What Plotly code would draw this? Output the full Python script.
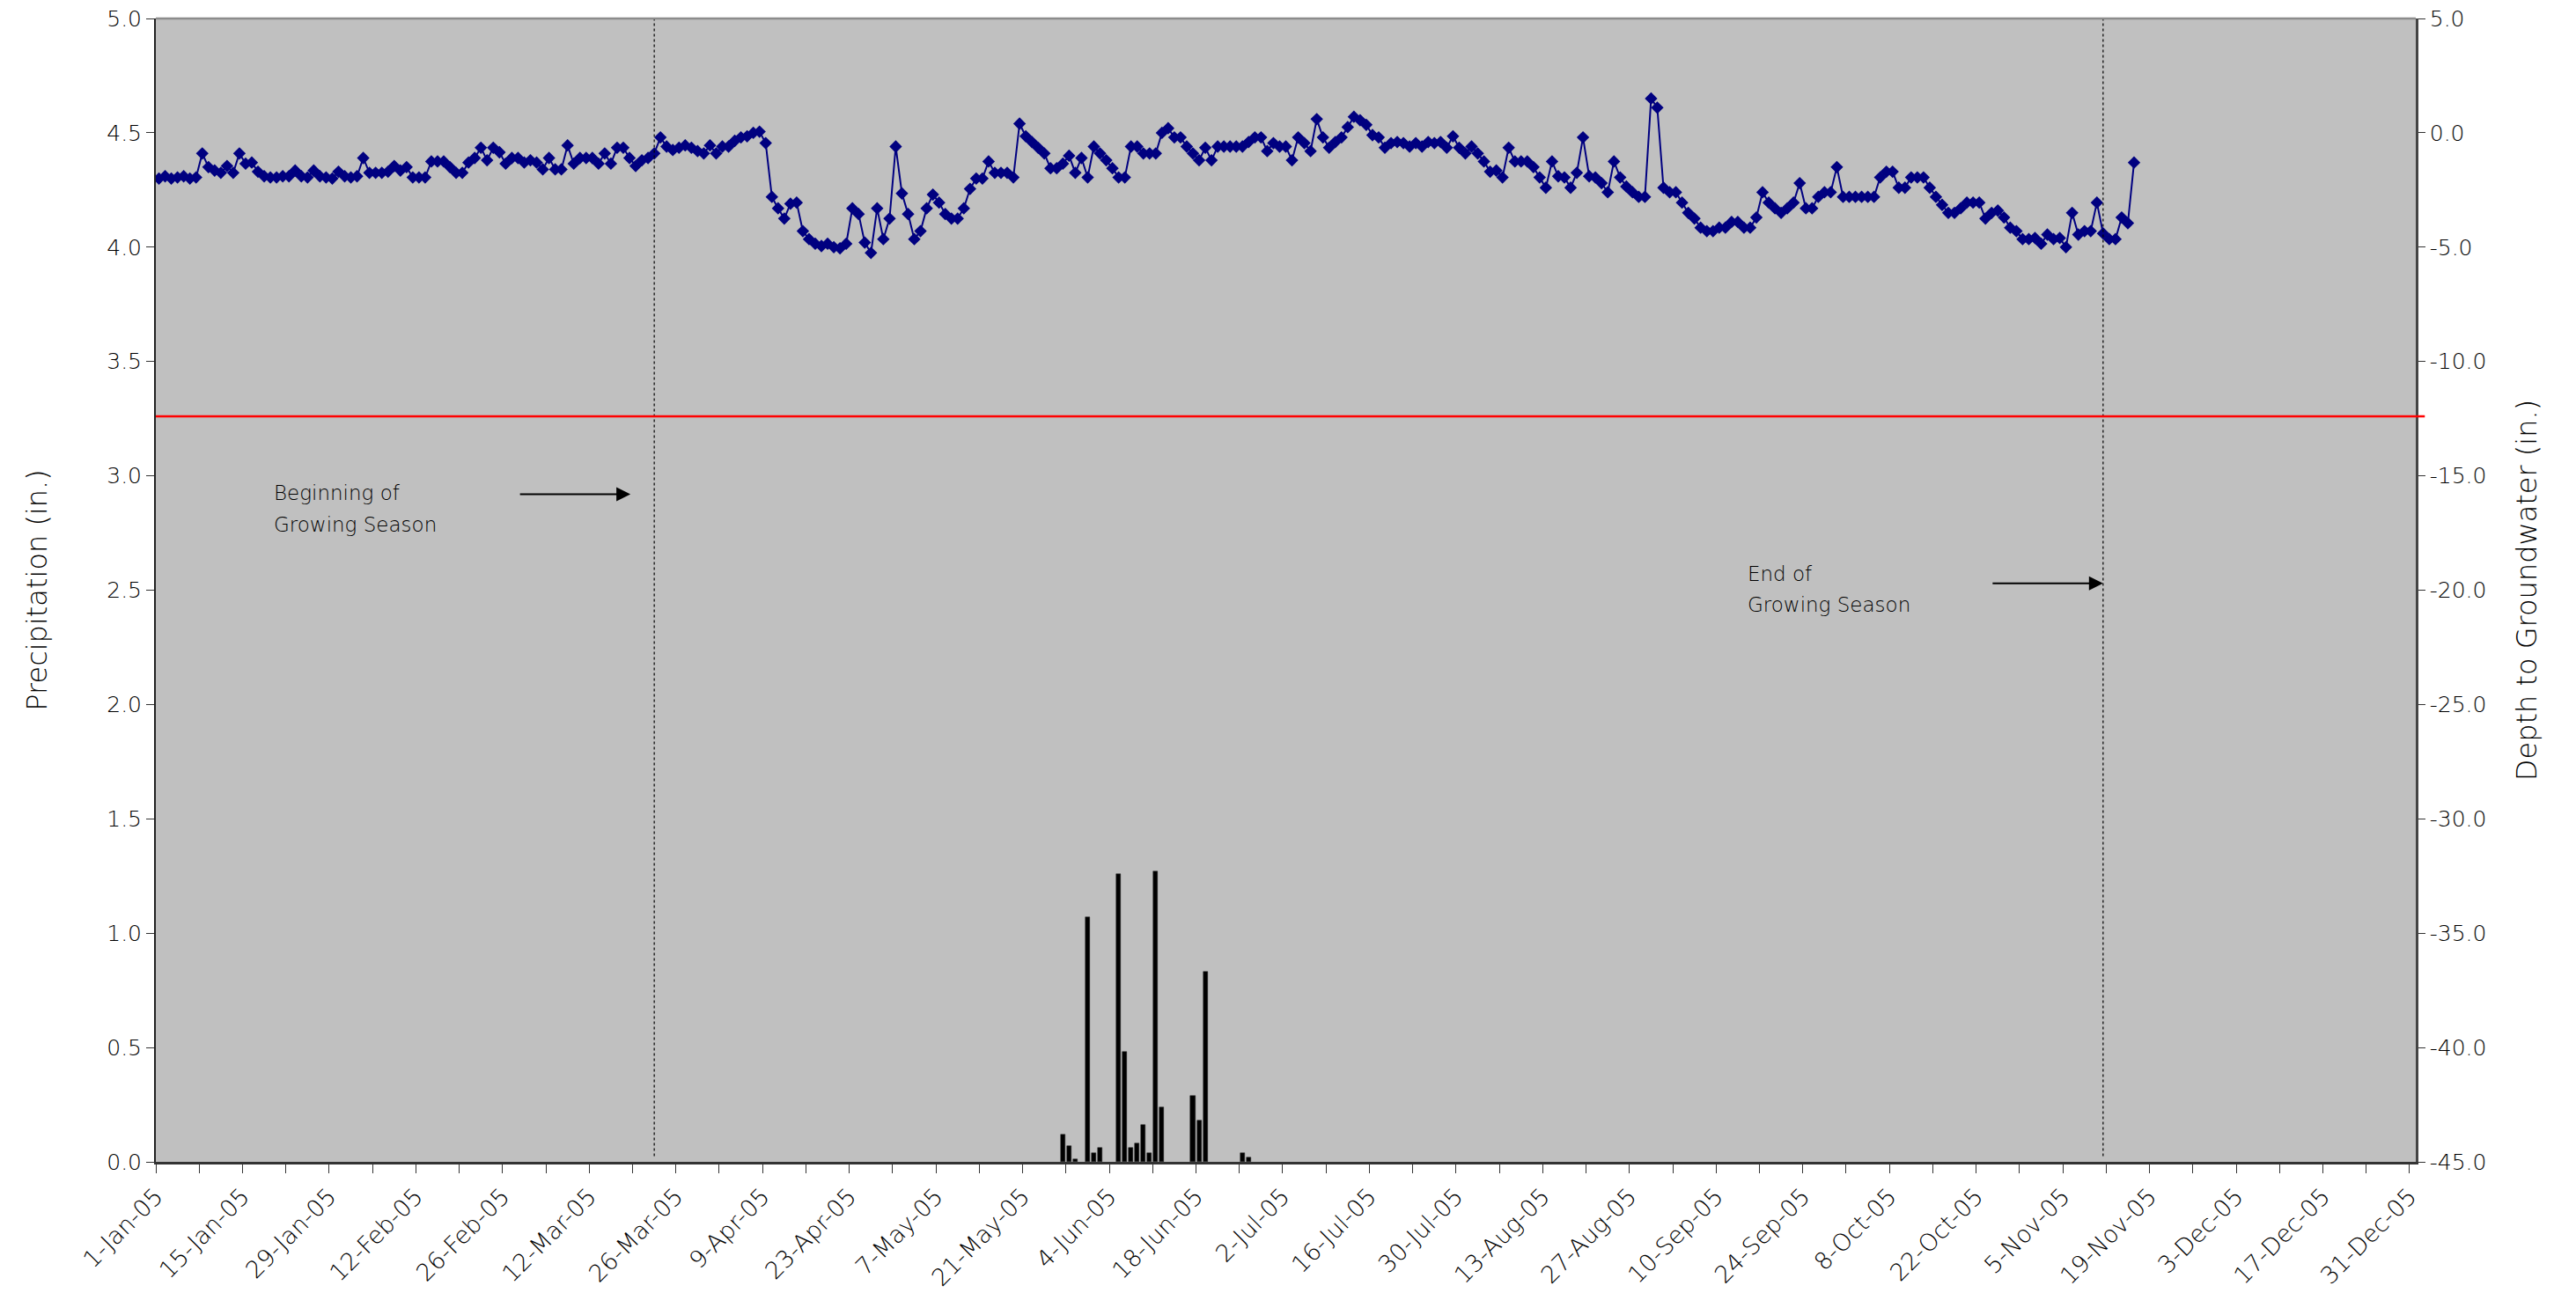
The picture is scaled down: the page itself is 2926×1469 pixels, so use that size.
import pandas as pd
import plotly.graph_objects as go

# daily depth to groundwater (in.), starting 1-Jan-05
depth_start = "2005-01-01"
depth = [
    -2.0, -1.9, -2.0, -1.95, -1.9, -2.0, -1.95, -0.9, -1.5, -1.65,
    -1.75, -1.45, -1.75, -0.9, -1.35, -1.3, -1.7, -1.9, -1.95, -1.95,
    -1.9, -1.9, -1.65, -1.9, -1.95, -1.65, -1.9, -1.95, -2.0, -1.7,
    -1.9, -1.95, -1.9, -1.1, -1.75, -1.75, -1.75, -1.7, -1.45, -1.65,
    -1.5, -1.95, -1.95, -1.95, -1.25, -1.25, -1.25, -1.5, -1.75, -1.75,
    -1.3, -1.1, -0.65, -1.2, -0.65, -0.85, -1.35, -1.1, -1.1, -1.3,
    -1.2, -1.3, -1.6, -1.1, -1.6, -1.6, -0.55, -1.35, -1.1, -1.1,
    -1.1, -1.35, -0.9, -1.35, -0.65, -0.65, -1.1, -1.45, -1.2, -1.1,
    -0.9, -0.2, -0.6, -0.75, -0.65, -0.55, -0.65, -0.8, -0.9, -0.55,
    -0.9, -0.6, -0.6, -0.35, -0.2, -0.15, 0.0, 0.05, -0.45, -2.8,
    -3.3, -3.75, -3.1, -3.05, -4.3, -4.65, -4.85, -4.95, -4.85, -5.0,
    -5.05, -4.85, -3.3, -3.55, -4.8, -5.25, -3.3, -4.65, -3.75, -0.6,
    -2.65, -3.55, -4.65, -4.3, -3.3, -2.7, -3.05, -3.55, -3.75, -3.75,
    -3.3, -2.45, -2.0, -2.0, -1.25, -1.75, -1.75, -1.75, -1.95, 0.4,
    -0.15, -0.4, -0.65, -0.9, -1.55, -1.55, -1.35, -1.0, -1.75, -1.1,
    -1.95, -0.6, -0.9, -1.2, -1.55, -1.95, -1.95, -0.6, -0.6, -0.9,
    -0.9, -0.9, 0.0, 0.2, -0.2, -0.2, -0.6, -0.9, -1.2, -0.65,
    -1.2, -0.6, -0.6, -0.6, -0.6, -0.6, -0.4, -0.2, -0.2, -0.8,
    -0.45, -0.6, -0.6, -1.2, -0.2, -0.45, -0.8, 0.6, -0.2, -0.65,
    -0.4, -0.2, 0.25, 0.7, 0.55, 0.35, -0.1, -0.2, -0.65, -0.45,
    -0.4, -0.45, -0.6, -0.45, -0.6, -0.4, -0.45, -0.4, -0.65, -0.15,
    -0.65, -0.9, -0.6, -0.9, -1.25, -1.7, -1.65, -1.95, -0.65, -1.25,
    -1.25, -1.25, -1.5, -1.95, -2.4, -1.25, -1.9, -1.95, -2.4, -1.75,
    -0.2, -1.9, -1.95, -2.2, -2.6, -1.25, -1.95, -2.35, -2.6, -2.8,
    -2.8, 1.5, 1.1, -2.4, -2.6, -2.6, -3.05, -3.5, -3.75, -4.15,
    -4.3, -4.3, -4.15, -4.15, -3.9, -3.9, -4.15, -4.15, -3.7, -2.6,
    -3.05, -3.3, -3.5, -3.3, -3.05, -2.2, -3.3, -3.3, -2.8, -2.6,
    -2.6, -1.5, -2.8, -2.8, -2.8, -2.8, -2.8, -2.8, -1.95, -1.7,
    -1.7, -2.4, -2.4, -1.95, -1.95, -1.95, -2.4, -2.8, -3.15, -3.5,
    -3.5, -3.3, -3.05, -3.05, -3.05, -3.75, -3.5, -3.4, -3.7, -4.15,
    -4.3, -4.65, -4.65, -4.6, -4.85, -4.45, -4.65, -4.6, -5.0, -3.5,
    -4.45, -4.3, -4.3, -3.05, -4.4, -4.65, -4.65, -3.7, -3.95, -1.3,
]

# daily precipitation (in.), days with rain only
precip_dates = [
    "2005-05-27", "2005-05-28", "2005-05-29", "2005-05-31", "2005-06-01",
    "2005-06-02", "2005-06-05", "2005-06-06", "2005-06-07", "2005-06-08",
    "2005-06-09", "2005-06-10", "2005-06-11", "2005-06-12", "2005-06-17",
    "2005-06-18", "2005-06-19", "2005-06-25", "2005-06-26",
]
precip = [
    0.12, 0.07, 0.01, 1.07, 0.04,
    0.06, 1.26, 0.48, 0.06, 0.08,
    0.16, 0.04, 1.27, 0.24, 0.29,
    0.18, 0.83, 0.04, 0.02,
]

growing_start = "2005-03-22"
growing_end = "2005-11-11"
root_zone_depth = -12.4

left_ticks = [0.0, 0.5, 1.0, 1.5, 2.0, 2.5, 3.0, 3.5, 4.0, 4.5, 5.0]
right_ticks = [-45, -40, -35, -30, -25, -20, -15, -10, -5, 0, 5]

DAY = 86400000
FONT = "DejaVu Sans"
depth_dates = pd.date_range(depth_start, periods=len(depth), freq="D")

fig = go.Figure()

fig.add_trace(go.Bar(
    x=precip_dates, y=precip,
    xperiod=DAY, xperiodalignment="middle",
    width=0.72 * DAY,
    marker=dict(color="black", line=dict(color="#222", width=0.5)),
    yaxis="y", showlegend=False,
))

fig.add_trace(go.Scatter(
    x=depth_dates, y=depth,
    xperiod=DAY, xperiodalignment="middle",
    mode="lines+markers",
    line=dict(color="#000080", width=2),
    marker=dict(symbol="diamond", size=11, color="#000080"),
    yaxis="y2", showlegend=False,
))

# growing season markers
for d in (growing_start, growing_end):
    mid = pd.Timestamp(d) + pd.Timedelta(hours=12)
    fig.add_shape(type="line", xref="x", yref="y domain",
                  x0=mid, x1=mid, y0=0.005, y1=1.0,
                  line=dict(color="black", width=1.2, dash="dot"))

fig.add_shape(type="line", xref="x domain", yref="y2",
              x0=0, x1=1.004, y0=root_zone_depth, y1=root_zone_depth,
              line=dict(color="#ff0000", width=2.5))

# top border of plot area
fig.add_shape(type="line", xref="x domain", yref="y domain",
              x0=0, x1=1, y0=1, y1=1,
              line=dict(color="#8c8c8c", width=2.5))

txt = dict(family=FONT, size=23, color="#000", weight=200)
labels = [
    (0.0515, 0.585, "Beginning of"), (0.0515, 0.557, "Growing Season"),
    (0.7035, 0.514, "End of"), (0.7035, 0.487, "Growing Season"),
]
for x, y, s in labels:
    fig.add_annotation(x=x, y=y, xref="paper", yref="paper", text=s,
                       showarrow=False, xanchor="left", yanchor="middle", font=txt)

arrows = [(growing_start, 2.92, -27), (growing_end, 2.53, 0)]
for d, y, shift in arrows:
    mid = pd.Timestamp(d) + pd.Timedelta(hours=12)
    fig.add_annotation(x=mid, y=y, xref="x", yref="y", text="",
                       showarrow=True, ax=-127, ay=0, xshift=shift,
                       arrowhead=2, arrowsize=1.6, arrowwidth=2, arrowcolor="black")

ytick_font = dict(family=FONT, size=25, color="#000", weight=200)
xtick_font = dict(family=FONT, size=27, color="#000", weight=200)
title_font = dict(family=FONT, size=32, color="#000", weight=200)
fig.update_layout(
    width=2926, height=1469,
    # page body adds an 8px offset, so the plot box lands at 177..2744 x 21..1320
    margin=dict(l=169, r=190, t=13, b=157, autoexpand=False),
    paper_bgcolor="white", plot_bgcolor="#c0c0c0",
    bargap=0,
    xaxis=dict(
        type="date", range=["2005-01-01", "2006-01-01"], automargin=False,
        tick0="2005-01-01", dtick=14 * DAY, tickformat="%-d-%b-%y",
        tickangle=-45, tickfont=xtick_font, ticklabeloverflow="allow",
        ticks="outside", ticklen=10, tickwidth=1.2, tickcolor="#333",
        minor=dict(dtick=7 * DAY, tick0="2005-01-01", ticks="outside",
                   ticklen=10, tickwidth=1.2, tickcolor="#333", showgrid=False),
        showline=True, linecolor="#333", linewidth=2.5,
        showgrid=False, zeroline=False,
    ),
    yaxis=dict(
        range=[0, 5], tickvals=left_ticks, automargin=False,
        ticktext=[f"{v:.1f}" for v in left_ticks], ticklabeloverflow="allow",
        tickfont=ytick_font, ticks="outside", ticklen=9, tickcolor="#333",
        showline=True, linecolor="#222", linewidth=2,
        showgrid=False, zeroline=False,
        title=dict(text="Precipitation (in.)", standoff=58, font=title_font),
    ),
    yaxis2=dict(
        overlaying="y", side="right", automargin=False,
        range=[-45, 5], tickvals=right_ticks, ticklabeloverflow="allow",
        ticktext=[f"{v:.1f}" for v in right_ticks],
        tickfont=ytick_font, ticks="outside", ticklen=8, tickcolor="#333",
        showline=True, linecolor="#444", linewidth=2.5,
        showgrid=False, zeroline=False,
        title=dict(text="Depth to Groundwater (in.)", standoff=36, font=title_font),
    ),
)

fig.write_html("out.html")
